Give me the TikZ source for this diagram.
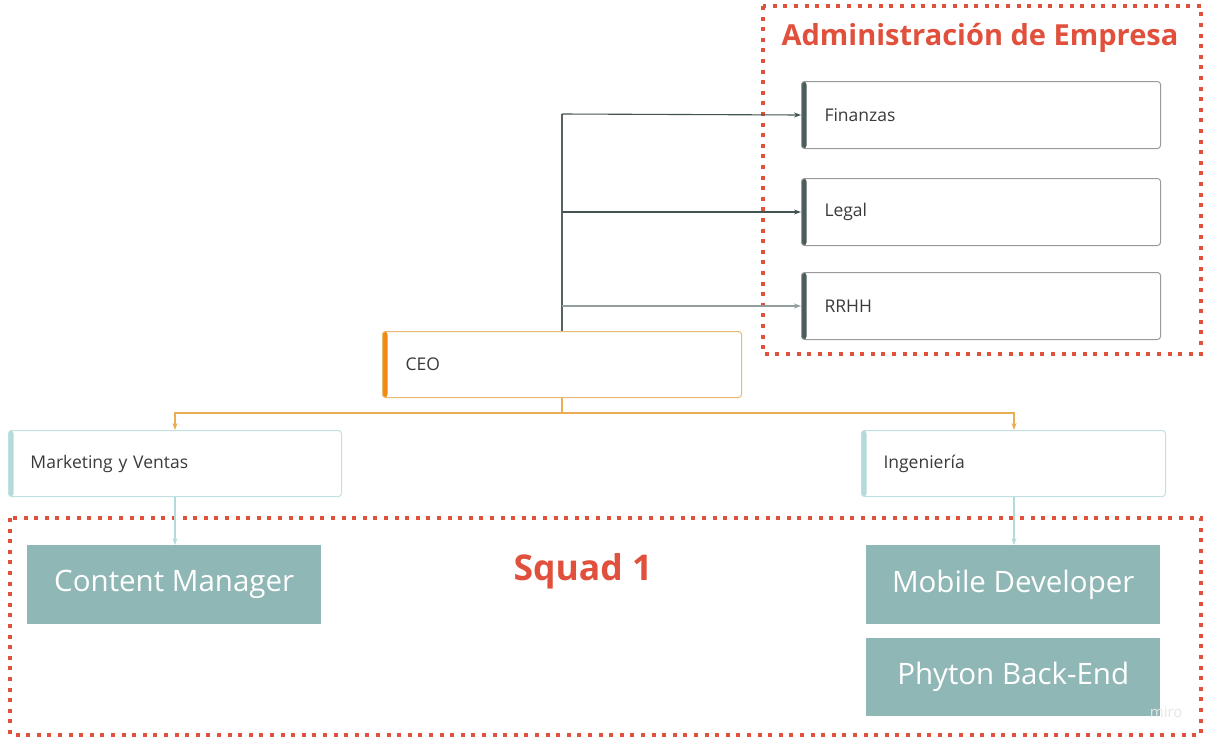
\documentclass[tikz,border=0pt]{standalone}
\usepackage{fontspec}
\setmainfont{Open Sans}
\usetikzlibrary{arrows.meta}

\definecolor{squadred}{HTML}{E0503C}
\definecolor{darkbar}{HTML}{4A5C5B}
\definecolor{greyline}{HTML}{9A9A9A}
\definecolor{ceoorange}{HTML}{F28A12}
\definecolor{ceoline}{HTML}{E6BA72}
\definecolor{tealbar}{HTML}{B5DADA}
\definecolor{tealline}{HTML}{C2E0E0}
\definecolor{rolefill}{HTML}{8FB7B5}
\definecolor{textgrey}{HTML}{3A3A3A}

\tikzset{
  orgbox/.style={draw=#1, line width=1pt, rounded corners=3pt, fill=white,
    anchor=north west, inner sep=0pt, text=textgrey, align=left,
    font=\fontsize{17.5}{20}\selectfont},
  leftbar/.style={path picture={\fill[#1] (path picture bounding box.north west)
    rectangle ([xshift=5pt]path picture bounding box.south west);}},
  rolebox/.style={fill=rolefill, anchor=north west, inner sep=0pt,
    minimum width=294pt, minimum height=79pt, text=white,
    font=\fontsize{29.5}{34}\selectfont},
  groupframe/.style={draw=squadred, line width=4pt, dash pattern=on 4pt off 6.6pt},
  grouptitle/.style={text=squadred},
  treelink/.style={draw=#1, line width=1.1pt},
  tip/.style={-{Stealth[length=7pt,width=5pt]}}
}

\begin{document}
\begin{tikzpicture}[x=1pt,y=-1pt]
  \useasboundingbox (0,0) rectangle (1205,740);

  % group frames
  \draw[groupframe] (763,6) rectangle (1201,354);
  \draw[groupframe] (10,518) rectangle (1201,735);
  \node[grouptitle, font=\bfseries\fontsize{29}{33}\selectfont] (admtitle) at (980,38) {Administración de Empresa};
  \node[grouptitle, font=\bfseries\fontsize{35.5}{40}\selectfont] (squadtitle) at (583,571) {Squad 1};

  % administration units
  \node[orgbox=greyline, leftbar=darkbar, minimum width=359pt, minimum height=67pt,
        text width=359pt] (fin) at (801,81) {\hspace*{23pt}Finanzas};
  \node[orgbox=greyline, leftbar=darkbar, minimum width=359pt, minimum height=67pt,
        text width=359pt] (leg) at (801,178) {\hspace*{23pt}Legal};
  \node[orgbox=greyline, leftbar=darkbar, minimum width=359pt, minimum height=67pt,
        text width=359pt] (rrhh) at (801,272) {\hspace*{23pt}RRHH};

  % CEO
  \node[orgbox=ceoline, leftbar=ceoorange, minimum width=359pt, minimum height=66pt,
        text width=359pt] (ceo) at (382,331) {\hspace*{23pt}CEO};

  % departments
  \node[orgbox=tealline, leftbar=tealbar, minimum width=333pt, minimum height=66pt,
        text width=333pt] (mkt) at (8,430) {\hspace*{22pt}Marketing y Ventas};
  \node[orgbox=tealline, leftbar=tealbar, minimum width=304pt, minimum height=66pt,
        text width=304pt] (ing) at (861,430) {\hspace*{22pt}Ingeniería};

  % squad roles
  \node[rolebox] (cm) at (27,545) {Content Manager};
  \node[rolebox] (mob) at (866,545) {Mobile Developer};
  \node[rolebox, minimum height=78pt] (py) at (866,638) {Phyton Back-End};

  % watermark
  \node[text=white!80!gray, font=\fontsize{15}{17}\selectfont, anchor=east] (miro) at (1186,712) {miro};

  % CEO to administration
  \coordinate (trunk) at (562,114);
  \draw[treelink=darkbar!80!gray] (ceo.north -| trunk) -- (trunk);
  \draw[treelink=darkbar!90!black, tip] (trunk) -- (fin.west);
  \draw[treelink=darkbar!90!black, tip] (trunk |- leg.west) -- (leg.west);
  \draw[treelink=darkbar!60!white, tip] (trunk |- rrhh.west) -- (rrhh.west);

  % CEO to departments
  \coordinate (split) at (562,413);
  \draw[treelink=ceoline!70!ceoorange] (ceo.south -| split) -- (split);
  \draw[treelink=ceoline!70!ceoorange, tip] (split) -| (mkt.north -| 175,0);
  \draw[treelink=ceoline!70!ceoorange, tip] (split) -| (ing.north -| 1014,0);

  % departments to squad roles
  \draw[treelink=tealbar, tip] (mkt.south -| 175,0) -- (cm.north -| 175,0);
  \draw[treelink=tealbar, tip] (ing.south -| 1014,0) -- (mob.north -| 1014,0);
\end{tikzpicture}
\end{document}
